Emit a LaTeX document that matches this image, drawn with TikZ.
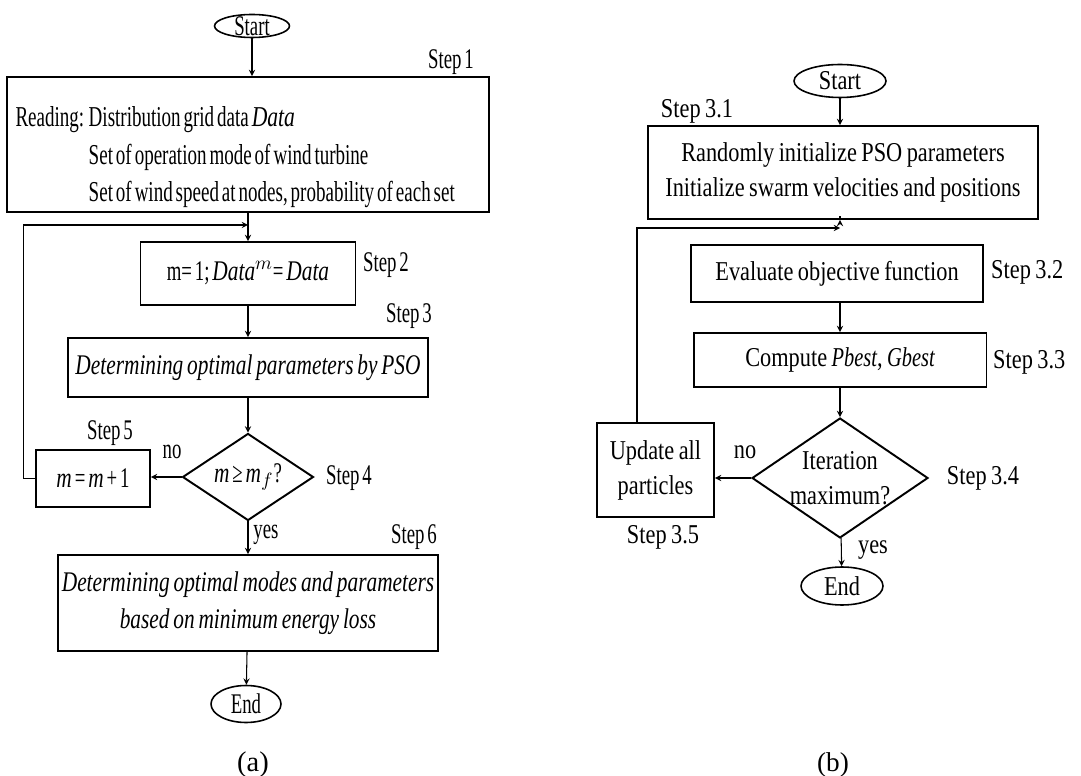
\documentclass[tikz,border=0pt]{standalone}
\usepackage{fontspec}
\setmainfont{Liberation Serif}
\newfontfamily\fonta{Liberation Serif}[FakeStretch=0.66,WordSpace=0.62]
\newfontfamily\fontai{Liberation Serif}[FakeStretch=0.75,WordSpace=0.72]
\newfontfamily\fontb{Liberation Serif}[FakeStretch=0.82,WordSpace=0.8]
\newcommand\ita[1]{{\fontai\itshape #1}}
\usetikzlibrary{arrows,shapes.geometric}

\tikzset{
  boxa/.style={draw, line width=1.1pt, rectangle, inner sep=0pt, align=center},
  term/.style={draw, line width=0.9pt, ellipse, inner sep=0pt},
  cond/.style={draw, line width=1.1pt, diamond, inner sep=0pt},
  flow/.style={->, line width=0.6pt}
}

\begin{document}
\begin{tikzpicture}[x=0.02cm,y=-0.02cm,>=stealth]
    \useasboundingbox (0,0) rectangle (1081,776);
    % (a) outer loop over the operation modes
    \begin{scope}[every node/.style={font=\fonta\fontsize{16.2}{21.3}\selectfont}]
    \node[term,minimum width=1.5cm,minimum height=0.46cm,label=center:Start] (starta) at (252,26) {};
    \node[boxa,minimum width=9.66cm,minimum height=2.7cm,text width=9.3cm,align=flush left,
          font=\fonta\fontsize{16.4}{21.4}\selectfont] (reada) at (248,144.5)
      {\rule{0pt}{26pt}Reading: Distribution grid data \ita{Data}\\
       \hphantom{Reading: }Set of operation mode of wind turbine\\
       \hphantom{Reading: }Set of wind speed at nodes, probability of each set};
    \node[boxa,minimum width=4.3cm,minimum height=1.26cm] (initm) at (248,273.5) {m= 1; \ita{Data}$^{m}$= \ita{Data}};
    \node[boxa,minimum width=7.2cm,minimum height=1.18cm] (pso) at (248,367.5) {\ita{Determining optimal parameters by PSO}};
    \node[cond,minimum width=2.62cm,minimum height=1.74cm,label=center:{\ita{m} ≥ \ita{m}$_{f}$?}] (check) at (248,477) {};
    \node[boxa,minimum width=2.28cm,minimum height=1.14cm] (incm) at (93,478.5) {\ita{m} = \ita{m} + 1};
    \node[boxa,minimum width=7.6cm,minimum height=1.92cm] (best) at (248,603)
      {\ita{Determining optimal modes and parameters}\\ \ita{based on minimum energy loss}};
    \node[term,minimum width=1.4cm,minimum height=0.74cm,label=center:End] (enda) at (246,704) {};
    % step tags
    \node (sa1) at (451,62) {Step 1};
    \node (sa2) at (386,265) {Step 2};
    \node (sa3) at (409,316) {Step 3};
    \node (sa4) at (349,478) {Step 4};
    \node (sa5) at (110,433) {Step 5};
    \node (sa6) at (414,537) {Step 6};
    \node (noa) at (172,452) {no};
    \node (yesa) at (266,535) {yes};
    \node (capa) at (253,765) {\rmfamily (a)};
    % connectors
    \coordinate (ja) at (248,225);
    \draw[flow] (starta) -- (starta |- reada.north);
    \draw[flow] (reada) -- (initm);
    \draw[flow] (initm) -- (pso);
    \draw[flow] (pso) -- (check);
    \draw[flow] (check.west) -- (check.west -| incm.east);
    \draw[flow] (incm.west) -- ++(-12,0) |- (ja);
    \draw[flow] (check) -- (best);
    \draw[flow] (best) -- (enda);
    \end{scope}
    % (b) PSO
    \begin{scope}[every node/.style={font=\fontb\fontsize{15.5}{19.9}\selectfont}]
    \node[term,minimum width=1.84cm,minimum height=0.66cm,label=center:Start] (startb) at (840,81) {};
    \node[boxa,minimum width=7.8cm,minimum height=1.86cm] (initp) at (843,172.5)
      {Randomly initialize PSO parameters\\Initialize swarm velocities and positions};
    \node[boxa,minimum width=5.84cm,minimum height=1.14cm] (evalf) at (837,273.5) {Evaluate objective function};
    \node[boxa,minimum width=5.86cm,minimum height=1.08cm] (compb) at (840,360) {Compute \ita{Pbest}, \ita{Gbest}};
    \node[cond,minimum width=3.52cm,minimum height=2.4cm,label={[align=center]center:Iteration\\maximum?}] (iter) at (840,478) {};
    \node[boxa,minimum width=2.34cm,minimum height=1.88cm] (updp) at (655.5,470) {Update all\\particles};
    \node[term,minimum width=1.64cm,minimum height=0.76cm,label=center:End] (endb) at (842,586) {};
    % step tags
    \node (sb1) at (697,111) {Step 3.1};
    \node[anchor=west] (sb2) at (985,272) {Step 3.2};
    \node[anchor=west] (sb3) at (987,362) {Step 3.3};
    \node (sb4) at (983,478) {Step 3.4};
    \node (sb5) at (663,537) {Step 3.5};
    \node (nob) at (745,452) {no};
    \node (yesb) at (873,550) {yes};
    \node (capb) at (833,765) {\rmfamily (b)};
    % connectors
    \coordinate (jb) at (840,228);
    \coordinate (lb) at (637,228);
    \draw[flow] (startb) -- (startb |- initp.north);
    \draw[flow] (initp.south -| compb) -- (initp.south -| compb |- evalf.north);
    \draw[flow] (evalf.south -| compb) -- (compb);
    \draw[flow] (compb) -- (iter);
    \draw[flow] (iter.west) -- (iter.west -| updp.east);
    \draw[flow] (lb |- updp.north) -- (lb) -- (jb);
    \draw[flow] (iter) -- (endb);
    \end{scope}
\end{tikzpicture}
\end{document}
